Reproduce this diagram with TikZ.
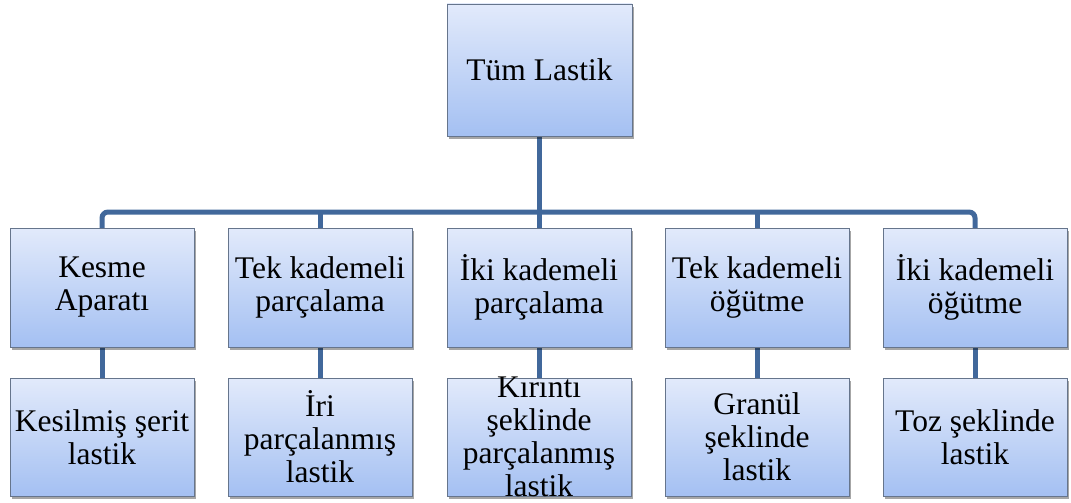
\documentclass[tikz,border=0pt]{standalone}
\usepackage{fontspec}
\setmainfont{Liberation Serif}
\usetikzlibrary{shadows}
\definecolor{linec}{HTML}{41689B}
\definecolor{topc}{HTML}{E2EAFB}
\definecolor{botc}{HTML}{A4C0F2}
\definecolor{edgec}{HTML}{66758C}
\begin{document}
\begin{tikzpicture}[x=1pt,y=-1pt,
  box/.style={draw=edgec, line width=0.8pt, top color=topc, bottom color=botc,
    minimum width=184pt, minimum height=118pt, inner sep=0pt,
    drop shadow={shadow xshift=2pt, shadow yshift=-3pt, opacity=0.35, fill=black}},
  lbl/.style={align=center, font=\fontsize{31.5}{33}\selectfont},
  conn/.style={draw=linec, line width=5pt}]
\useasboundingbox (0,0) rectangle (1071,503);
\coordinate (bus) at (0,212);
% node positions
\path (539.5,70) coordinate (pt);
\foreach \i/\x in {1/102,2/320,3/539,4/757,5/975}{
  \path (\x,287.5) coordinate (pa\i);
  \path (\x,437) coordinate (pb\i);
}
% connectors
\draw[conn] (pt) -- (pt |- bus);
\draw[conn, rounded corners=6pt] (pa1) -- (pa1 |- bus) -- (pa5 |- bus) -- (pa5);
\foreach \i in {2,3,4}{
  \draw[conn] (pa\i |- bus) -- (pa\i);
}
\foreach \i in {1,...,5}{
  \draw[conn] (pa\i) -- (pb\i);
}
% boxes
\node[box, minimum width=185pt, minimum height=132pt] (t) at (pt) {};
\node[lbl] at (t) {Tüm Lastik};
\foreach \i/\txt in {1/{Kesme\\Aparatı},2/{Tek kademeli\\parçalama},3/{İki kademeli\\parçalama},4/{Tek kademeli\\öğütme},5/{İki kademeli\\öğütme}}{
  \node[box, minimum height=119pt] (a\i) at (pa\i) {};
  \node[lbl] (ta\i) at (a\i) {\txt};
}
\foreach \i/\txt in {1/{Kesilmiş şerit\\lastik},2/{İri\\parçalanmış\\lastik},3/{Kırıntı\\şeklinde\\parçalanmış\\lastik},4/{Granül\\şeklinde\\lastik},5/{Toz şeklinde\\lastik}}{
  \node[box] (b\i) at (pb\i) {};
  \node[lbl] (tb\i) at (b\i) {\txt};
}
\end{tikzpicture}
\end{document}
